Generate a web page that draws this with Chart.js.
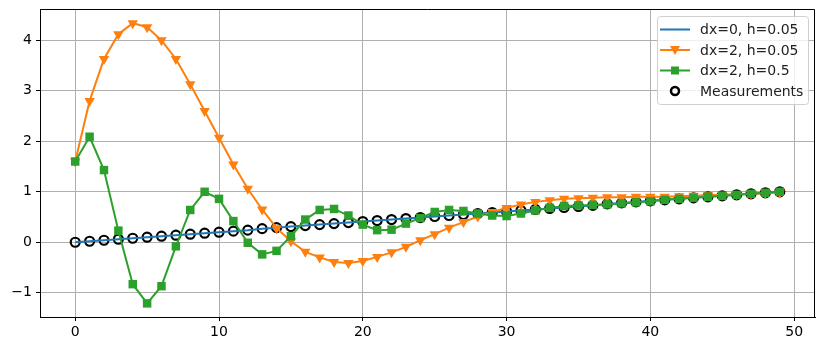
<!DOCTYPE html>
<html>
<head>
<meta charset="utf-8">
<script src="https://cdn.jsdelivr.net/npm/chart.js@4"></script>
<style>
  html, body { margin: 0; padding: 0; background: #fff; }
  #wrap { width: 825px; height: 351px; }
</style>
</head>
<body>
<div id="wrap"><canvas id="chart"></canvas></div>
<script>
// sample index along the x axis
const steps = [0,1,2,3,4,5,6,7,8,9,10,11,12,13,14,15,16,17,18,19,20,21,22,23,24,
  25,26,27,28,29,30,31,32,33,34,35,36,37,38,39,40,41,42,43,44,45,46,47,48,49];

const measurements = [0,0.02,0.04,0.06,0.08,0.10,0.12,0.14,0.16,0.18,0.20,0.22,0.24,0.27,0.29,
  0.31,0.33,0.35,0.37,0.39,0.41,0.43,0.45,0.47,0.49,0.51,0.53,0.55,0.57,0.59,0.61,0.63,0.65,
  0.67,0.69,0.71,0.73,0.76,0.78,0.80,0.82,0.84,0.86,0.88,0.90,0.92,0.94,0.96,0.98,1.00];

const dx0h005 = [0,0.02,0.04,0.06,0.08,0.10,0.12,0.14,0.16,0.18,0.20,0.22,0.24,0.27,0.29,
  0.31,0.33,0.35,0.37,0.39,0.41,0.43,0.45,0.47,0.49,0.51,0.53,0.55,0.57,0.59,0.61,0.63,0.65,
  0.67,0.69,0.71,0.73,0.76,0.78,0.80,0.82,0.84,0.86,0.88,0.90,0.92,0.94,0.96,0.98,1.00];

const dx2h005 = [1.60,2.80,3.63,4.12,4.34,4.26,4.00,3.63,3.13,2.60,2.07,1.54,1.06,0.65,0.28,
  0.02,-0.19,-0.30,-0.39,-0.41,-0.37,-0.29,-0.20,-0.09,0.04,0.16,0.29,0.40,0.51,0.60,0.68,
  0.75,0.80,0.83,0.86,0.87,0.88,0.89,0.89,0.90,0.90,0.90,0.91,0.92,0.93,0.94,0.95,0.96,0.97,0.98];

const dx2h05 = [1.60,2.09,1.43,0.23,-0.83,-1.21,-0.87,-0.08,0.64,1.00,0.86,0.42,-0.01,-0.24,-0.17,
  0.12,0.45,0.64,0.66,0.53,0.35,0.24,0.25,0.37,0.48,0.60,0.64,0.62,0.57,0.53,0.52,0.57,0.63,
  0.68,0.72,0.73,0.74,0.75,0.77,0.79,0.81,0.84,0.86,0.88,0.90,0.92,0.94,0.96,0.98,1.00];

const xTicks = [0, 10, 20, 30, 40, 50];
const yTicks = [-1, 0, 1, 2, 3, 4];

const pts = vals => steps.map((s, i) => ({ x: s, y: vals[i] }));

const legendItems = [
  { label: "dx=0, h=0.05", color: "#1f77b4", line: true, marker: null },
  { label: "dx=2, h=0.05", color: "#ff7f0e", line: true, marker: "tri" },
  { label: "dx=2, h=0.5", color: "#2ca02c", line: true, marker: "sq" },
  { label: "Measurements", color: "#000000", line: false, marker: "circ" },
];

// frame on top/right plus a matplotlib-looking legend box
const extras = {
  id: "extras",
  afterDraw(chart) {
    const ctx = chart.ctx;
    const a = chart.chartArea;
    ctx.save();
    ctx.strokeStyle = "#000";
    ctx.lineWidth = 1;
    ctx.beginPath();
    ctx.moveTo(a.left, a.top + 0.5);
    ctx.lineTo(a.right - 0.5, a.top + 0.5);
    ctx.lineTo(a.right - 0.5, a.bottom);
    ctx.stroke();

    const bx = 657, by = 16, bw = 151, bh = 88;
    ctx.fillStyle = "rgba(255,255,255,0.8)";
    ctx.strokeStyle = "#d0d0d0";
    ctx.beginPath();
    ctx.roundRect(bx + 0.5, by + 0.5, bw, bh, 3);
    ctx.fill();
    ctx.stroke();

    ctx.font = "14px 'DejaVu Sans'";
    ctx.textBaseline = "middle";
    legendItems.forEach((it, i) => {
      const y = 29.5 + i * 20.5;
      if (it.line) {
        ctx.strokeStyle = it.color;
        ctx.lineWidth = 2;
        ctx.beginPath();
        ctx.moveTo(660, y);
        ctx.lineTo(690, y);
        ctx.stroke();
      }
      ctx.fillStyle = it.color;
      if (it.marker === "tri") {
        ctx.beginPath();
        ctx.moveTo(670, y - 4);
        ctx.lineTo(680, y - 4);
        ctx.lineTo(675, y + 5);
        ctx.closePath();
        ctx.fill();
      } else if (it.marker === "sq") {
        ctx.fillRect(671, y - 4, 8, 8);
      } else if (it.marker === "circ") {
        ctx.strokeStyle = "#000";
        ctx.lineWidth = 2.5;
        ctx.beginPath();
        ctx.arc(675, y, 4, 0, Math.PI * 2);
        ctx.stroke();
      }
      ctx.fillStyle = "#222";
      ctx.fillText(it.label, 700, y + 1);
    });
    ctx.restore();
  }
};

Chart.defaults.font.family = "'DejaVu Sans', sans-serif";
Chart.defaults.font.size = 14;
Chart.defaults.color = "#000";

new Chart(document.getElementById("chart"), {
  type: "line",
  data: {
    datasets: [
      {
        label: "Measurements",
        data: pts(measurements),
        showLine: false,
        pointStyle: "circle",
        pointRadius: 4.5,
        pointBorderWidth: 2.2,
        pointBorderColor: "#000",
        pointBackgroundColor: "rgba(0,0,0,0)",
        order: 5,
      },
      {
        label: "dx=0, h=0.05",
        data: pts(dx0h005),
        borderColor: "#1f77b4",
        borderWidth: 2,
        pointRadius: 0,
        order: 4,
      },
      {
        label: "dx=2, h=0.05",
        data: pts(dx2h005),
        borderColor: "#ff7f0e",
        backgroundColor: "#ff7f0e",
        borderWidth: 2,
        pointStyle: "triangle",
        pointRotation: 180,
        pointRadius: 6,
        pointBorderWidth: 0,
        order: 3,
      },
      {
        label: "dx=2, h=0.5",
        data: pts(dx2h05),
        borderColor: "#2ca02c",
        backgroundColor: "#2ca02c",
        borderWidth: 2,
        pointStyle: "rect",
        pointRadius: 6,
        pointBorderWidth: 0,
        order: 2,
      },
    ],
  },
  options: {
    animation: false,
    responsive: true,
    maintainAspectRatio: false,
    layout: { padding: { top: 9, right: 10, left: 0, bottom: 0 } },
    plugins: { legend: { display: false }, tooltip: { enabled: false } },
    scales: {
      x: {
        type: "linear",
        min: -2.45,
        max: 51.45,
        afterBuildTicks: s => { s.ticks = xTicks.map(v => ({ value: v })); },
        afterFit: s => { s.height = 34; s.paddingLeft = 0; s.paddingRight = 0; },
        grid: { color: "#b0b0b0", lineWidth: 1, tickColor: "#000", tickLength: 4, drawTicks: true },
        border: { display: true, color: "#000", width: 1 },
        ticks: { padding: 3, color: "#000", maxRotation: 0 },
      },
      y: {
        type: "linear",
        min: -1.48,
        max: 4.62,
        afterBuildTicks: s => { s.ticks = yTicks.map(v => ({ value: v })); },
        afterFit: s => { s.width = 40; s.paddingTop = 0; s.paddingBottom = 0; },
        grid: { color: "#b0b0b0", lineWidth: 1, tickColor: "#000", tickLength: 4, drawTicks: true },
        border: { display: true, color: "#000", width: 1 },
        ticks: {
          padding: 4,
          color: "#000",
          callback: v => (v < 0 ? "\u2212" + Math.abs(v) : String(v)),
        },
      },
    },
  },
  plugins: [extras],
});
</script>
</body>
</html>
